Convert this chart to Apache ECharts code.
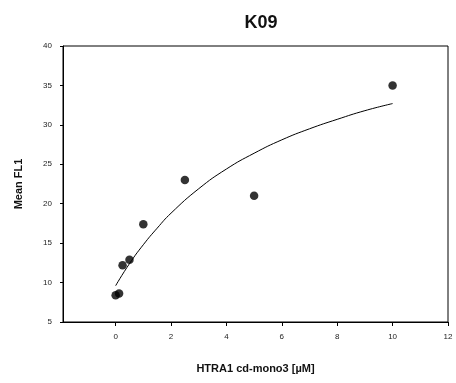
<!DOCTYPE html>
<html>
<head>
<meta charset="utf-8">
<script src="https://cdn.jsdelivr.net/npm/echarts@6/dist/echarts.min.js"></script>
<style>
  html, body { margin: 0; padding: 0; background: #fff; }
  #chart { width: 456px; height: 383px; }
</style>
</head>
<body>
<div id="chart"></div>
<script>
// Measured points: concentration (µM) vs mean fluorescence
const concentration = [0, 0.125, 0.25, 0.5, 1, 2.5, 5, 10];
const meanFL1 = [8.4, 8.6, 12.2, 12.9, 17.4, 23.0, 21.0, 35.0];

// Fitted saturation curve, sampled along x
const fitX = [0, 0.5, 1, 1.5, 2, 3, 4, 5, 6, 7, 8, 9, 10];
const fitY = [9.6, 12.4, 14.8, 16.9, 18.8, 21.9, 24.4, 26.4, 28.1, 29.5, 30.7, 31.8, 32.7];

const xTicks = [0, 2, 4, 6, 8, 10, 12];

const chart = echarts.init(document.getElementById('chart'), null, { renderer: 'canvas' });

chart.setOption({
  animation: false,
  backgroundColor: '#ffffff',
  title: {
    text: 'K09',
    left: 256,
    top: 9,
    textAlign: 'center',
    textStyle: { fontFamily: 'Liberation Sans, Arial', fontSize: 18, fontWeight: 'bold', color: '#111' }
  },
  grid: {
    left: 63, right: 8, top: 46, bottom: 61,
    show: true, borderColor: '#000', borderWidth: 1, backgroundColor: 'transparent'
  },
  xAxis: {
    type: 'value',
    min: -1.9, max: 12,
    name: 'HTRA1 cd-mono3 [µM]',
    nameLocation: 'middle',
    nameGap: 41,
    nameTextStyle: { fontFamily: 'Liberation Sans, Arial', fontSize: 11, fontWeight: 'bold', color: '#111' },
    axisLine: { show: true, onZero: false, lineStyle: { color: '#000', width: 1 } },
    axisTick: { show: true, length: 4, customValues: xTicks, lineStyle: { color: '#000' } },
    axisLabel: { customValues: xTicks, margin: 11, fontFamily: 'Liberation Sans, Arial', fontSize: 8, color: '#222' },
    splitLine: { show: false }
  },
  yAxis: {
    type: 'value',
    min: 5, max: 40, interval: 5,
    name: 'Mean FL1',
    nameLocation: 'middle',
    nameGap: 39,
    nameRotate: 90,
    nameTextStyle: { fontFamily: 'Liberation Sans, Arial', fontSize: 11, fontWeight: 'bold', color: '#111' },
    axisLine: { show: true, onZero: false, lineStyle: { color: '#000', width: 1 } },
    axisTick: { show: true, length: 3, lineStyle: { color: '#000' } },
    axisLabel: { margin: 11, fontFamily: 'Liberation Sans, Arial', fontSize: 8, color: '#222' },
    splitLine: { show: false }
  },
  series: [
    {
      name: 'fit',
      type: 'line',
      data: fitX.map((x, i) => [x, fitY[i]]),
      smooth: true,
      showSymbol: false,
      lineStyle: { color: '#000', width: 1 },
      z: 2
    },
    {
      name: 'data',
      type: 'scatter',
      data: concentration.map((x, i) => [x, meanFL1[i]]),
      symbol: 'circle',
      symbolSize: 8.5,
      itemStyle: { color: '#000' },
      z: 3
    }
  ]
});
</script>
</body>
</html>
